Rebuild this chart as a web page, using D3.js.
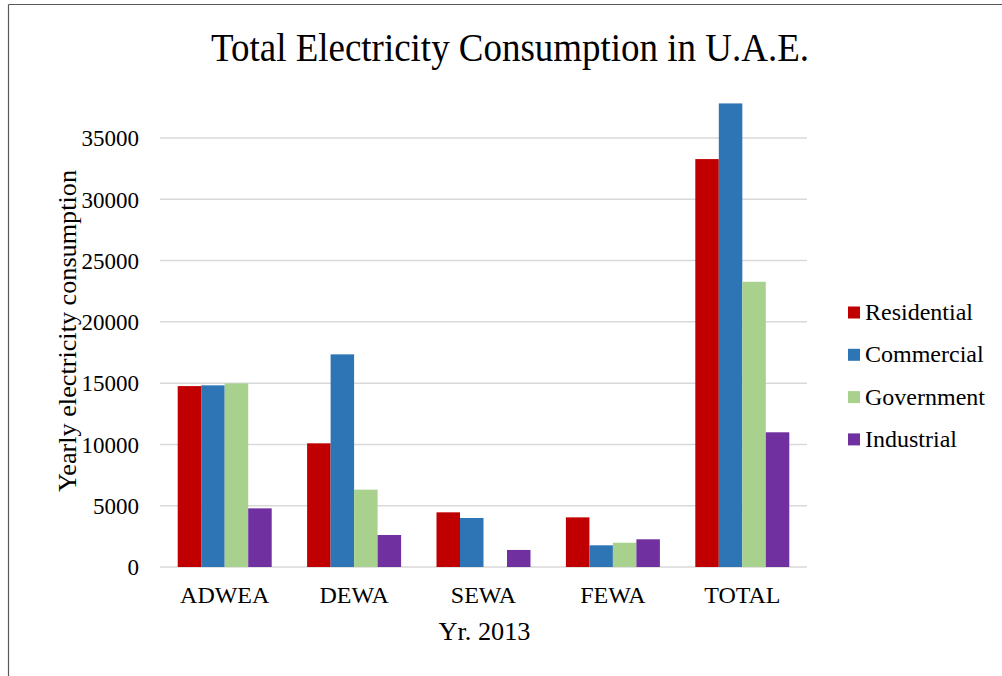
<!DOCTYPE html>
<html>
<head>
<meta charset="utf-8">
<script src="https://cdn.jsdelivr.net/npm/d3@7"></script>
<style>
  body { margin: 0; background: #fff; }
  text { font-family: "Liberation Serif", "Times New Roman", serif; fill: #000; }
</style>
</head>
<body>
<div id="chart"></div>
<script>
// data
const regions = ["ADWEA", "DEWA", "SEWA", "FEWA", "TOTAL"];
const sectors = ["Residential", "Commercial", "Government", "Industrial"];
const residential = [14760, 10090, 4460, 4050, 33280];
const commercial = [14820, 17350, 4000, 1770, 37820];
const government = [14980, 6310, 0, 1980, 23270];
const industrial = [4785, 2610, 1390, 2260, 10990];
const yTicks = [0, 5000, 10000, 15000, 20000, 25000, 30000, 35000];
const colors = ["#c00000", "#2e75b6", "#a9d18e", "#7030a0"];

const series = [residential, commercial, government, industrial];
const rows = regions.map((r, i) => ({ region: r, values: series.map(s => s[i]) }));

let W = 1002, H = 676;
let plot = { left: 160, right: 807, top: 138, bottom: 567 };

let svg = d3.select("#chart").append("svg")
	.attr("width", W)
	.attr("height", H);

// frame (left and top edges only visible)
svg.append("line")
	.attr("x1", 8.5).attr("y1", 4.5).attr("x2", 8.5).attr("y2", H)
	.attr("stroke", "#595959").attr("stroke-width", 1.2);
svg.append("line")
	.attr("x1", 8.5).attr("y1", 4.5).attr("x2", W).attr("y2", 4.5)
	.attr("stroke", "#595959").attr("stroke-width", 1.2);

// scales
let x0 = d3.scaleBand()
	.domain(regions)
	.range([plot.left, plot.right])
	.paddingInner(0.2736)
	.paddingOuter(0.1368);

let x1 = d3.scaleBand()
	.domain(d3.range(sectors.length))
	.range([0, x0.bandwidth()]);

let y = d3.scaleLinear()
	.domain([0, 35000])
	.range([plot.bottom, plot.top]);

// gridlines
svg.append("g")
	.selectAll("line")
	.data(yTicks)
	.join("line")
	.attr("x1", plot.left)
	.attr("x2", plot.right)
	.attr("y1", d => y(d))
	.attr("y2", d => y(d))
	.attr("stroke", "#d9d9d9")
	.attr("stroke-width", 1.5);

// y tick labels
let yAxis = d3.axisLeft(y).tickValues(yTicks).tickSize(0).tickPadding(0).tickFormat(d3.format("d"));
let yAxisGroup = svg.append("g")
	.attr("transform", "translate(139,0)")
	.call(yAxis);
yAxisGroup.select(".domain").remove();
yAxisGroup.selectAll("text")
	.attr("fill", "#000")
	.attr("dy", "0.34em")
	.style("font-family", "Liberation Serif")
	.style("font-size", "23px");

// bars
let groups = svg.append("g")
	.selectAll("g")
	.data(rows)
	.join("g")
	.attr("transform", d => "translate(" + x0(d.region) + ",0)");

groups.selectAll("rect")
	.data(d => d.values.map((v, i) => ({ v: v, i: i })))
	.join("rect")
	.attr("x", d => x1(d.i))
	.attr("width", x1.bandwidth())
	.attr("y", d => y(d.v))
	.attr("height", d => y(0) - y(d.v))
	.attr("fill", d => colors[d.i]);

// x category labels
let xAxis = d3.axisBottom(x0).tickSize(0).tickPadding(0);
let xAxisGroup = svg.append("g")
	.attr("transform", "translate(0,603)")
	.call(xAxis);
xAxisGroup.select(".domain").remove();
xAxisGroup.selectAll("text")
	.attr("fill", "#000")
	.attr("dy", "0")
	.style("font-family", "Liberation Serif")
	.style("font-size", "24px");

// title
svg.append("text")
	.attr("x", 510)
	.attr("y", 61)
	.attr("text-anchor", "middle")
	.attr("textLength", 598)
	.attr("lengthAdjust", "spacingAndGlyphs")
	.style("font-size", "40px")
	.text("Total Electricity Consumption in U.A.E.");

// axis titles
svg.append("text")
	.attr("x", 484.5)
	.attr("y", 640)
	.attr("text-anchor", "middle")
	.attr("textLength", 92)
	.attr("lengthAdjust", "spacingAndGlyphs")
	.style("font-size", "25px")
	.text("Yr. 2013");

svg.append("text")
	.attr("transform", "translate(76,331) rotate(-90)")
	.attr("text-anchor", "middle")
	.attr("textLength", 322)
	.attr("lengthAdjust", "spacingAndGlyphs")
	.style("font-size", "25px")
	.text("Yearly electricity consumption");

// legend
let legend = svg.append("g")
	.selectAll("g")
	.data(sectors)
	.join("g")
	.attr("transform", (d, i) => "translate(848," + (320 + i * 42.3) + ")");

legend.append("rect")
	.attr("x", 0)
	.attr("y", -13.5)
	.attr("width", 12)
	.attr("height", 12)
	.attr("fill", (d, i) => colors[i]);

legend.append("text")
	.attr("x", 17)
	.attr("y", 0)
	.style("font-size", "24px")
	.text(d => d);
</script>
</body>
</html>
